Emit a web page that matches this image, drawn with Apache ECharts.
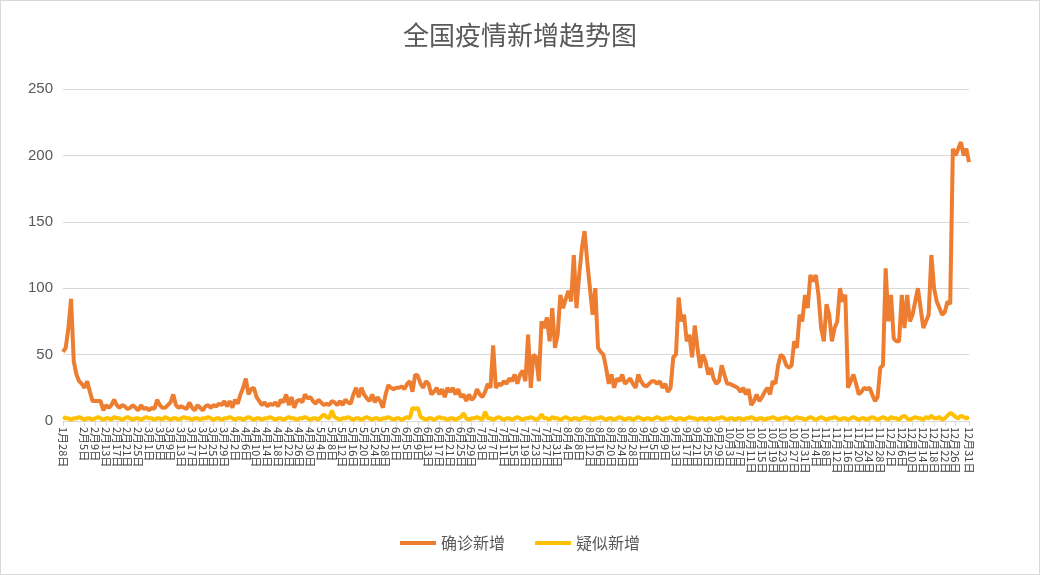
<!DOCTYPE html>
<html><head><meta charset="utf-8">
<script src="https://cdn.jsdelivr.net/npm/echarts@6/dist/echarts.min.js"></script>
<style>html,body{margin:0;padding:0;background:#fff}#c{width:1040px;height:575px;box-sizing:border-box;border:1px solid #d9d9d9}</style>
</head><body><div id="c"></div>
<script>
const startDate = [2021, 1, 28];
const dayCount = 338;
const confirmed = [
52,55,70,92,45,35,30,28,25,30,
22,15,15,15,15,8,12,10,12,16,
12,10,12,11,9,10,12,10,8,12,
9,10,8,10,9,16,12,10,10,12,
14,20,12,10,11,10,9,14,10,8,
12,10,8,11,12,10,12,11,13,12,
15,11,15,10,16,13,20,25,32,20,
24,25,18,15,12,14,11,13,12,14,
11,16,14,20,12,18,10,15,16,14,
20,17,18,15,13,16,14,12,13,12,
15,14,12,15,12,16,14,13,20,25,
18,25,20,17,15,20,14,18,15,10,
20,27,25,24,25,25,26,24,28,30,
22,35,34,28,25,30,28,20,22,25,
20,24,18,25,22,25,20,24,18,20,
15,20,16,18,24,20,18,22,28,25,
57,25,28,27,30,28,32,30,35,28,
35,38,30,65,25,50,48,30,75,70,
78,60,85,55,65,95,85,92,98,90,
125,85,110,130,143,120,100,80,100,55,
52,50,40,28,35,25,32,30,35,28,
30,32,28,25,35,30,27,26,28,30,
30,28,30,25,28,22,25,48,50,93,
75,80,60,65,48,72,55,40,50,45,
35,40,32,28,30,42,35,28,28,27,
26,25,22,25,20,24,12,15,20,15,
18,22,25,20,30,28,42,50,48,42,
40,42,60,55,80,75,95,85,110,105,
110,95,70,60,88,80,60,70,75,100,
90,95,25,30,35,28,20,22,25,24,
25,20,15,18,40,42,115,75,95,62,
60,60,95,70,95,75,80,90,100,85,
70,75,80,125,100,90,85,80,82,90,
88,205,200,205,210,200,205,195
];
const suspected = [
3,2,2,1,2,2,3,2,1,2,
2,1,2,3,2,1,2,2,1,3,
2,2,1,2,3,2,1,2,2,1,
2,3,2,2,1,2,2,1,3,2,
1,2,2,1,2,3,2,2,1,2,
2,1,2,2,3,2,1,2,2,1,
2,2,3,2,1,2,2,1,2,3,
2,1,2,2,1,2,2,3,2,1,
2,2,1,2,3,2,2,1,2,2,
3,2,1,2,2,1,3,5,3,2,
8,3,2,1,2,2,3,2,1,2,
2,1,2,3,2,1,2,2,1,2,
2,3,2,1,2,2,1,2,3,2,
10,9,10,3,2,1,2,2,1,2,
3,2,2,1,2,2,1,2,3,6,
2,1,2,2,3,2,1,7,2,2,
1,2,3,2,1,2,2,1,2,3,
2,1,2,2,3,2,1,2,5,2,
2,1,3,2,2,1,2,3,2,1,
2,2,1,2,3,2,2,1,2,2,
3,2,1,2,2,1,2,3,2,1,
2,2,1,2,3,2,1,2,2,1,
2,3,2,1,2,2,3,2,1,2,
2,1,2,3,2,2,1,2,2,1,
2,2,1,2,2,3,2,1,2,2,
1,2,2,1,2,2,3,2,1,2,
2,1,2,2,3,2,1,2,2,3,
2,1,2,3,2,2,1,2,3,2,
1,2,3,2,1,2,2,3,2,1,
2,2,1,2,3,2,1,2,2,1,
2,3,2,1,2,3,2,1,3,2,
2,1,3,4,2,1,2,3,2,2,
1,3,2,4,2,2,3,1,2,4,
6,5,3,2,4,3,2,3
];
const dates = [];
for (let i = 0; i < dayCount; i++) {
  const d = new Date(startDate[0], startDate[1] - 1, startDate[2] + i);
  dates.push((d.getMonth() + 1) + '月' + d.getDate() + '日');
}
const chart = echarts.init(document.getElementById('c'));
chart.setOption({
  animation: false,
  title: { text: '全国疫情新增趋势图', left: 'center', top: 16,
    textStyle: { fontSize: 26, fontWeight: 'normal', color: '#595959', fontFamily: 'Noto Sans CJK SC' } },
  legend: { bottom: 18, itemWidth: 36, itemGap: 30, icon: 'rect', itemHeight: 4,
    textStyle: { fontSize: 16, color: '#595959', fontFamily: 'Noto Sans CJK SC' },
    data: ['确诊新增', '疑似新增'] },
  grid: { left: 62, right: 70, top: 88, bottom: 153 },
  xAxis: { type: 'category', data: dates, boundaryGap: false,
    axisLine: { lineStyle: { color: '#d9d9d9' } },
    axisTick: { show: true, interval: 3, lineStyle: { color: '#d9d9d9' } },
    axisLabel: { interval: 3, rotate: -90, fontSize: 11, color: '#404040', margin: 6,
      showMinLabel: true, showMaxLabel: true, hideOverlap: false,
      fontFamily: 'Noto Sans CJK SC' } },
  yAxis: { type: 'value', min: 0, max: 250, interval: 50,
    axisLine: { show: false }, axisTick: { show: false },
    axisLabel: { fontSize: 15, color: '#595959', margin: 10 },
    splitLine: { lineStyle: { color: '#d9d9d9' } } },
  series: [
    { name: '确诊新增', type: 'line', data: confirmed, showSymbol: false,
      lineStyle: { width: 4, color: '#ED7D31' }, itemStyle: { color: '#ED7D31' } },
    { name: '疑似新增', type: 'line', data: suspected, showSymbol: false,
      lineStyle: { width: 4, color: '#FFC000' }, itemStyle: { color: '#FFC000' } }
  ]
});
</script></body></html>
